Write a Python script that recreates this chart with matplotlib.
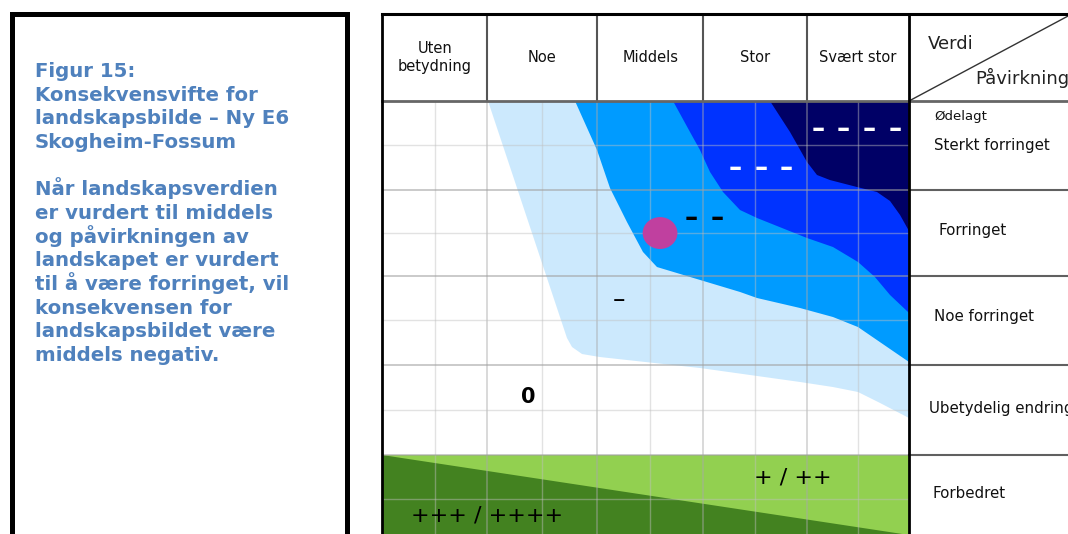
import matplotlib.pyplot as plt
from matplotlib.patches import Polygon, Rectangle, Ellipse

W, H = 1068, 534

# caption text in the left box
caption = ["Figur 15:",
           "Konsekvensvifte for",
           "landskapsbilde – Ny E6",
           "Skogheim-Fossum",
           "",
           "Når landskapsverdien",
           "er vurdert til middels",
           "og påvirkningen av",
           "landskapet er vurdert",
           "til å være forringet, vil",
           "konsekvensen for",
           "landskapsbildet være",
           "middels negativ."]

# grid: x in column units (Verdi), y in row units (Påvirkning), 0 = top of body
col_labels = ["Uten\nbetydning", "Noe", "Middels", "Stor", "Svært stor"]
col_edges = [0, 1.0, 2.04, 3.05, 4.03, 5.0]
row_labels = ["Ødelagt", "Sterkt forringet", "Forringet", "Noe forringet",
              "Ubetydelig endring", "Forbedret"]
row_edges = [0, 1.0, 1.98, 2.98, 4.0, 5.0]

# fan boundaries
light_x = [1.006, 1.755, 1.803, 1.898, 2.068, 3.017, 3.966, 4.279, 4.516, 4.725, 5.0]
light_y = [0, 2.678, 2.780, 2.859, 2.893, 3.017, 3.175, 3.232, 3.288, 3.412, 3.582]
mid_x = [1.831, 2.040, 2.163, 2.324, 2.476, 2.609, 2.799, 3.112, 3.397, 3.558,
         3.966, 4.279, 4.516, 4.696, 5.0]
mid_y = [0, 0.554, 0.983, 1.367, 1.706, 1.876, 1.944, 2.056, 2.158, 2.226,
         2.339, 2.441, 2.554, 2.701, 2.949]
strong_x = [2.761, 2.922, 3.017, 3.112, 3.235, 3.397, 3.558, 4.032, 4.279, 4.516,
            4.677, 4.820, 5.0]
strong_y = [0, 0.350, 0.554, 0.802, 1.028, 1.232, 1.322, 1.548, 1.650, 1.819,
            1.989, 2.192, 2.395]
dark_x = [3.681, 3.871, 4.032, 4.127, 4.250, 4.507, 4.696, 4.820, 4.915, 5.0]
dark_y = [0, 0.350, 0.689, 0.836, 0.893, 0.972, 1.028, 1.130, 1.288, 1.469]
green_x = [0, 5.0]
green_y = [4.0, 4.904]

# result point: middels verdi, forringet
dot_x, dot_y = 2.638, 1.492

fig = plt.figure(figsize=(W / 100, H / 100), dpi=100)
fig.patch.set_facecolor("white")

# left text box
fig.patches.append(Rectangle((11.5 / W, -0.05), 335 / W, 1.05 - 13.5 / H,
                             transform=fig.transFigure, fill=False,
                             edgecolor="black", linewidth=3.6))
for i, line in enumerate(caption):
    fig.text(35 / W, 1 - (77 + i * 23.67) / H, line, color="#4f81bd",
             fontsize=14.2, fontweight="bold", family="DejaVu Sans",
             va="baseline", ha="left")

# main diagram axes (1 column = 105.4 px, 1 row = 88.5 px)
ytop = -87 / 88.5
xmax = 686 / 105.4
ax = fig.add_axes([382 / W, 0, 686 / W, 520 / H])
ax.set_xlim(0, xmax)
ax.set_ylim(ytop + 520 / 88.5, ytop)
ax.axis("off")

ax.add_patch(Polygon(list(zip(light_x, light_y)) + [(5.0, 0)], closed=True,
                     facecolor="#cce9fd", edgecolor="none", zorder=1))
ax.add_patch(Polygon(list(zip(mid_x, mid_y)) + [(5.0, 0)], closed=True,
                     facecolor="#009bff", edgecolor="none", zorder=2))
ax.add_patch(Polygon(list(zip(strong_x, strong_y)) + [(5.0, 0)], closed=True,
                     facecolor="#0033ff", edgecolor="none", zorder=3))
ax.add_patch(Polygon(list(zip(dark_x, dark_y)) + [(5.0, 0)], closed=True,
                     facecolor="#000066", edgecolor="none", zorder=4))
ax.add_patch(Rectangle((0, green_y[0]), 5.0, 1.5, facecolor="#92d050",
                       edgecolor="none", zorder=1))
ax.add_patch(Polygon([(green_x[0], green_y[0]), (green_x[1], green_y[1]),
                      (green_x[1], 5.5), (green_x[0], 5.5)], closed=True,
                     facecolor="#438220", edgecolor="none", zorder=2))

# body grid
ybot = ytop + 520 / 88.5
for i in range(5):
    xm = (col_edges[i] + col_edges[i + 1]) / 2
    ax.plot([xm, xm], [0, ybot], color="#c0c0c0", alpha=0.45, lw=1, zorder=6)
    if i > 0:
        ax.plot([col_edges[i]] * 2, [0, ybot], color="#a8a8a8", alpha=0.55, lw=1.1, zorder=6)
for i in range(5):
    ym = (row_edges[i] + row_edges[i + 1]) / 2
    ax.plot([0, 5.0], [ym, ym], color="#c0c0c0", alpha=0.45, lw=1, zorder=6)
    if i > 0:
        ax.plot([0, 5.0], [row_edges[i]] * 2, color="#a0a0a0", alpha=0.6, lw=1.3, zorder=6)
        ax.plot([5.0, xmax], [row_edges[i]] * 2, color="#606060", lw=1.5,
                zorder=7, clip_on=False)

# header
for i in range(1, 5):
    ax.plot([col_edges[i]] * 2, [ytop, 0], color="#555555", lw=1.5, zorder=7)
for i, lab in enumerate(col_labels):
    ax.text((col_edges[i] + col_edges[i + 1]) / 2, ytop / 2, lab, ha="center",
            va="center", fontsize=10.5, color="#111111", linespacing=1.3, zorder=8)
ax.plot([0, xmax], [0, 0], color="#666666", lw=2, zorder=7, clip_on=False)
ax.plot([0, xmax], [ytop, ytop], color="black", lw=2.2, zorder=8, clip_on=False)
ax.plot([0, 0], [ytop, ybot], color="black", lw=2, zorder=8, clip_on=False)
ax.plot([5.0, 5.0], [ytop, ybot], color="black", lw=2, zorder=8, clip_on=False)
ax.plot([5.0, xmax], [0, -0.96], color="#333333", lw=1, zorder=7, clip_on=False)
ax.text(5.18, -0.644, "Verdi", fontsize=13, va="center", ha="left", color="#222222")
ax.text(5.626, -0.26, "Påvirkning", fontsize=13, va="center", ha="left", color="#222222")

# row labels
row_label_x = [5.24, 5.24, 5.28, 5.24, 5.19, 5.22]
row_label_y = [0.18, 0.50, 1.46, 2.44, 3.47, 4.43]
row_label_fs = [9.5, 10.8, 10.8, 10.8, 10.8, 10.8]
for lab, x, y, fs in zip(row_labels, row_label_x, row_label_y, row_label_fs):
    ax.text(x, y, lab, fontsize=fs, va="center", ha="left", color="#111111")

# consequence symbols
ax.add_patch(Ellipse((dot_x, dot_y), 0.33, 0.36, facecolor="#c0409f",
                     edgecolor="none", zorder=9))
for x in [4.141, 4.378, 4.620, 4.867]:
    ax.text(x, 0.328, "–", color="white", fontsize=19, fontweight="bold",
            ha="center", va="center", zorder=9)
for x in [3.354, 3.596, 3.838]:
    ax.text(x, 0.768, "–", color="white", fontsize=19, fontweight="bold",
            ha="center", va="center", zorder=9)
for x in [2.932, 3.183]:
    ax.text(x, 1.333, "–", color="black", fontsize=19, fontweight="bold",
            ha="center", va="center", zorder=9)
ax.text(2.249, 2.249, "–", color="black", fontsize=18, ha="center", va="center", zorder=9)
ax.text(1.385, 3.345, "0", color="black", fontsize=15, fontweight="bold",
        ha="center", va="center", zorder=9)
ax.text(3.899, 4.249, "+ / ++", color="black", fontsize=16, ha="center",
        va="center", zorder=9)
ax.text(0.996, 4.689, "+++ / ++++", color="black", fontsize=16, ha="center",
        va="center", zorder=9)

fig.savefig("out.png", dpi=100)
